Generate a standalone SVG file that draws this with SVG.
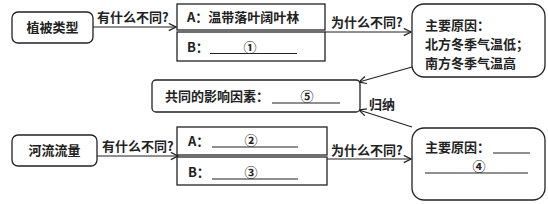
<svg xmlns="http://www.w3.org/2000/svg" width="548" height="204" viewBox="0 0 548 204">
<defs>
<marker id="ah" viewBox="0 0 10 10" refX="9" refY="5" markerWidth="9" markerHeight="9" markerUnits="userSpaceOnUse" orient="auto">
<polyline points="1,1 9,5 1,9" fill="none" stroke="#222" stroke-width="1.4"/>
</marker>
<style>
.b{fill:#fff;stroke:#222;stroke-width:1.3}
.t{font-family:"Noto Sans CJK SC","Liberation Serif",serif;font-size:13px;font-weight:bold;fill:#222}
.c{stroke:#222;stroke-width:1.2;fill:none}
.u{stroke:#222;stroke-width:1.1}
</style>
</defs>
<rect width="548" height="204" fill="#fff"/>
<g id="connectors">
<line class="c" x1="93" y1="27" x2="176" y2="27" marker-end="url(#ah)"/>
<text class="t" x="97" y="22">有什么不同?</text>
<line class="c" x1="325" y1="32" x2="411" y2="32" marker-end="url(#ah)"/>
<text class="t" x="331" y="27">为什么不同?</text>
<line class="c" x1="412" y1="67" x2="359" y2="82" marker-end="url(#ah)"/>
<line class="c" x1="412" y1="127" x2="359" y2="110" marker-end="url(#ah)"/>
<text class="t" x="369" y="109">归纳</text>
<line class="c" x1="97" y1="156" x2="178" y2="156" marker-end="url(#ah)"/>
<text class="t" x="102" y="151">有什么不同?</text>
<line class="c" x1="327" y1="159" x2="411" y2="159" marker-end="url(#ah)"/>
<text class="t" x="331" y="155">为什么不同?</text>
</g>
<g id="veg">
<rect class="b" x="12" y="12" width="81" height="31" rx="6"/>
<text class="t" x="52.5" y="32" text-anchor="middle">植被类型</text>
</g>
<g id="vegA">
<rect class="b" x="177" y="4" width="148" height="26"/>
<text class="t" x="187" y="22">A：温带落叶阔叶林</text>
</g>
<g id="vegB">
<rect class="b" x="177" y="32" width="148" height="29"/>
<text class="t" x="187" y="52">B：</text>
<line class="u" x1="210" y1="53.5" x2="297" y2="53.5"/>
<text class="t" x="250" y="52" text-anchor="middle">①</text>
</g>
<g id="reason1">
<rect class="b" x="412" y="4" width="133" height="73" rx="12"/>
<text class="t" x="425" y="30">主要原因：</text>
<text class="t" x="425" y="49">北方冬季气温低；</text>
<text class="t" x="425" y="68">南方冬季气温高</text>
</g>
<g id="common">
<rect class="b" x="152" y="80" width="208" height="32" rx="4"/>
<text class="t" x="165" y="101">共同的影响因素：</text>
<line class="u" x1="272" y1="103" x2="340" y2="103"/>
<text class="t" x="307" y="101" text-anchor="middle">⑤</text>
</g>
<g id="river">
<rect class="b" x="12" y="135" width="85" height="31" rx="6"/>
<text class="t" x="54.5" y="155" text-anchor="middle">河流流量</text>
</g>
<g id="riverA">
<rect class="b" x="177" y="127" width="150" height="28"/>
<text class="t" x="188" y="146">A：</text>
<line class="u" x1="212" y1="147" x2="298" y2="147"/>
<text class="t" x="251" y="145" text-anchor="middle">②</text>
</g>
<g id="riverB">
<rect class="b" x="177" y="157" width="150" height="28"/>
<text class="t" x="188" y="177">B：</text>
<line class="u" x1="212" y1="179" x2="298" y2="179"/>
<text class="t" x="251" y="177" text-anchor="middle">③</text>
</g>
<g id="reason2">
<rect class="b" x="412" y="128" width="133" height="72" rx="12"/>
<text class="t" x="425" y="152">主要原因：</text>
<line class="u" x1="493" y1="153" x2="530" y2="153"/>
<line class="u" x1="425" y1="173" x2="528" y2="173"/>
<text class="t" x="479" y="171" text-anchor="middle">④</text>
</g>
</svg>
